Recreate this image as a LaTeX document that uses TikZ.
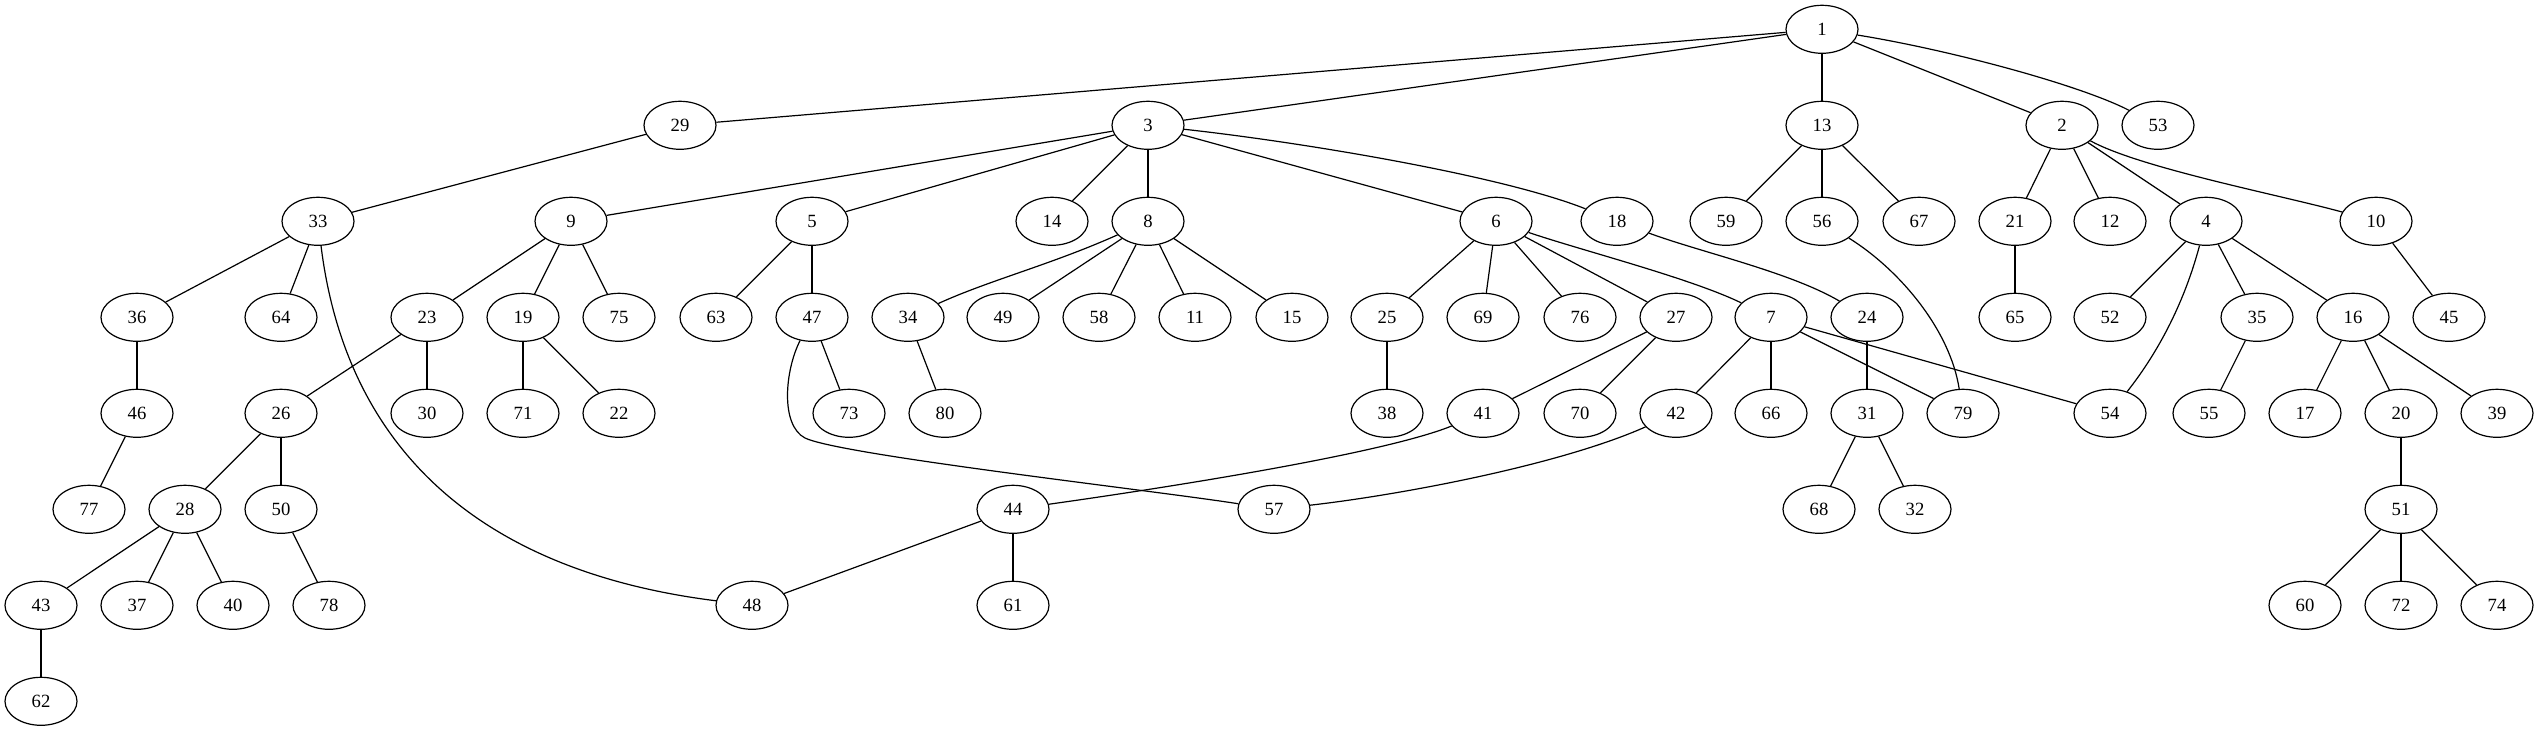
\documentclass[tikz,border=0pt]{standalone}
\usepackage{fontspec}
\setmainfont{Liberation Serif}
\usetikzlibrary{shapes.geometric}
\begin{document}
\begin{tikzpicture}[x=0.75pt,y=-0.75pt,
  nd/.style={draw,ellipse,line width=0.9pt,minimum width=54pt,minimum height=36pt,inner sep=0pt,font=\fontsize{14}{16}\selectfont},
  ed/.style={line width=0.9pt}]
\useasboundingbox (0,0) rectangle (2539,731);
% row 0
\node[nd] (n1) at (1822,29.3) {1};
% row 1
\node[nd] (n29) at (680,125.3) {29};
\node[nd] (n3) at (1148,125.3) {3};
\node[nd] (n13) at (1822,125.3) {13};
\node[nd] (n2) at (2062,125.3) {2};
\node[nd] (n53) at (2158,125.3) {53};
% row 2
\node[nd] (n33) at (318,221.3) {33};
\node[nd] (n9) at (571,221.3) {9};
\node[nd] (n5) at (812,221.3) {5};
\node[nd] (n14) at (1052,221.3) {14};
\node[nd] (n8) at (1148,221.3) {8};
\node[nd] (n6) at (1496,221.3) {6};
\node[nd] (n18) at (1617,221.3) {18};
\node[nd] (n59) at (1726,221.3) {59};
\node[nd] (n56) at (1822,221.3) {56};
\node[nd] (n67) at (1919,221.3) {67};
\node[nd] (n21) at (2015,221.3) {21};
\node[nd] (n12) at (2110,221.3) {12};
\node[nd] (n4) at (2206,221.3) {4};
\node[nd] (n10) at (2376,221.3) {10};
% row 3
\node[nd] (n36) at (137,317.3) {36};
\node[nd] (n64) at (281,317.3) {64};
\node[nd] (n23) at (427,317.3) {23};
\node[nd] (n19) at (523,317.3) {19};
\node[nd] (n75) at (619,317.3) {75};
\node[nd] (n63) at (716,317.3) {63};
\node[nd] (n47) at (812,317.3) {47};
\node[nd] (n34) at (908,317.3) {34};
\node[nd] (n49) at (1003,317.3) {49};
\node[nd] (n58) at (1099,317.3) {58};
\node[nd] (n11) at (1195,317.3) {11};
\node[nd] (n15) at (1292,317.3) {15};
\node[nd] (n25) at (1387,317.3) {25};
\node[nd] (n69) at (1483,317.3) {69};
\node[nd] (n76) at (1580,317.3) {76};
\node[nd] (n27) at (1676,317.3) {27};
\node[nd] (n7) at (1771,317.3) {7};
\node[nd] (n24) at (1867,317.3) {24};
\node[nd] (n65) at (2015,317.3) {65};
\node[nd] (n52) at (2110,317.3) {52};
\node[nd] (n35) at (2257,317.3) {35};
\node[nd] (n16) at (2353,317.3) {16};
\node[nd] (n45) at (2449,317.3) {45};
% row 4
\node[nd] (n46) at (137,413.3) {46};
\node[nd] (n26) at (281,413.3) {26};
\node[nd] (n30) at (427,413.3) {30};
\node[nd] (n71) at (523,413.3) {71};
\node[nd] (n22) at (619,413.3) {22};
\node[nd] (n73) at (849,413.3) {73};
\node[nd] (n80) at (945,413.3) {80};
\node[nd] (n38) at (1387,413.3) {38};
\node[nd] (n41) at (1483,413.3) {41};
\node[nd] (n70) at (1580,413.3) {70};
\node[nd] (n42) at (1676,413.3) {42};
\node[nd] (n66) at (1771,413.3) {66};
\node[nd] (n31) at (1867,413.3) {31};
\node[nd] (n79) at (1963,413.3) {79};
\node[nd] (n54) at (2110,413.3) {54};
\node[nd] (n55) at (2209,413.3) {55};
\node[nd] (n17) at (2305,413.3) {17};
\node[nd] (n20) at (2401,413.3) {20};
\node[nd] (n39) at (2497,413.3) {39};
% row 5
\node[nd] (n77) at (89,509.3) {77};
\node[nd] (n28) at (185,509.3) {28};
\node[nd] (n50) at (281,509.3) {50};
\node[nd] (n44) at (1013,509.3) {44};
\node[nd] (n57) at (1274,509.3) {57};
\node[nd] (n68) at (1819,509.3) {68};
\node[nd] (n32) at (1915,509.3) {32};
\node[nd] (n51) at (2401,509.3) {51};
% row 6
\node[nd] (n43) at (41,605.3) {43};
\node[nd] (n37) at (137,605.3) {37};
\node[nd] (n40) at (233,605.3) {40};
\node[nd] (n78) at (329,605.3) {78};
\node[nd] (n48) at (752,605.3) {48};
\node[nd] (n61) at (1013,605.3) {61};
\node[nd] (n60) at (2305,605.3) {60};
\node[nd] (n72) at (2401,605.3) {72};
\node[nd] (n74) at (2497,605.3) {74};
% row 7
\node[nd] (n62) at (41,701.3) {62};
% edges
\begin{scope}[ed]
\draw (n1) -- (n29);
\draw (n1) -- (n3);
\draw (n1) -- (n13);
\draw (n1) -- (n2);
\draw (n1) .. controls (1950,50) and (2080,85) .. (n53);
\draw (n29) -- (n33);
\draw (n3) -- (n9);
\draw (n3) -- (n5);
\draw (n3) -- (n14);
\draw (n3) -- (n8);
\draw (n3) -- (n6);
\draw (n3) .. controls (1300,142) and (1500,175) .. (n18);
\draw (n13) -- (n59);
\draw (n13) -- (n56);
\draw (n13) -- (n67);
\draw (n2) -- (n21);
\draw (n2) -- (n12);
\draw (n2) -- (n4);
\draw (n2) .. controls (2140,168) and (2280,195) .. (n10);
\draw (n33) -- (n36);
\draw (n33) -- (n64);
\draw (n33) .. controls (345,440) and (470,570) .. (n48);
\draw (n9) -- (n23);
\draw (n9) -- (n19);
\draw (n9) -- (n75);
\draw (n5) -- (n63);
\draw (n5) -- (n47);
\draw (n8) .. controls (1050,265) and (990,280) .. (n34);
\draw (n8) -- (n49);
\draw (n8) -- (n58);
\draw (n8) -- (n11);
\draw (n8) -- (n15);
\draw (n6) -- (n25);
\draw (n6) -- (n69);
\draw (n6) -- (n76);
\draw (n6) -- (n27);
\draw (n6) .. controls (1580,250) and (1690,278) .. (n7);
\draw (n18) .. controls (1700,252) and (1790,272) .. (n24);
\draw (n56) .. controls (1900,270) and (1950,330) .. (n79);
\draw (n21) -- (n65);
\draw (n4) -- (n52);
\draw (n4) .. controls (2185,300) and (2160,350) .. (n54);
\draw (n4) -- (n35);
\draw (n4) -- (n16);
\draw (n10) -- (n45);
\draw (n36) -- (n46);
\draw (n23) -- (n26);
\draw (n23) -- (n30);
\draw (n19) -- (n71);
\draw (n19) -- (n22);
\draw (n47) -- (n73);
\draw (n47) .. controls (785,370) and (780,425) .. (805,438) .. controls (840,455) and (1150,490) .. (n57);
\draw (n34) -- (n80);
\draw (n25) -- (n38);
\draw (n27) -- (n41);
\draw (n27) -- (n70);
\draw (n7) -- (n42);
\draw (n7) -- (n66);
\draw (n7) -- (n79);
\draw (n7) -- (n54);
\draw (n24) -- (n31);
\draw (n35) -- (n55);
\draw (n16) -- (n17);
\draw (n16) -- (n20);
\draw (n16) -- (n39);
\draw (n46) -- (n77);
\draw (n26) -- (n28);
\draw (n26) -- (n50);
\draw (n41) .. controls (1380,455) and (1150,490) .. (n44);
\draw (n42) .. controls (1560,465) and (1400,495) .. (n57);
\draw (n31) -- (n68);
\draw (n31) -- (n32);
\draw (n20) -- (n51);
\draw (n28) -- (n43);
\draw (n28) -- (n37);
\draw (n28) -- (n40);
\draw (n50) -- (n78);
\draw (n44) -- (n48);
\draw (n44) -- (n61);
\draw (n51) -- (n60);
\draw (n51) -- (n72);
\draw (n51) -- (n74);
\draw (n43) -- (n62);
\end{scope}
\end{tikzpicture}
\end{document}
